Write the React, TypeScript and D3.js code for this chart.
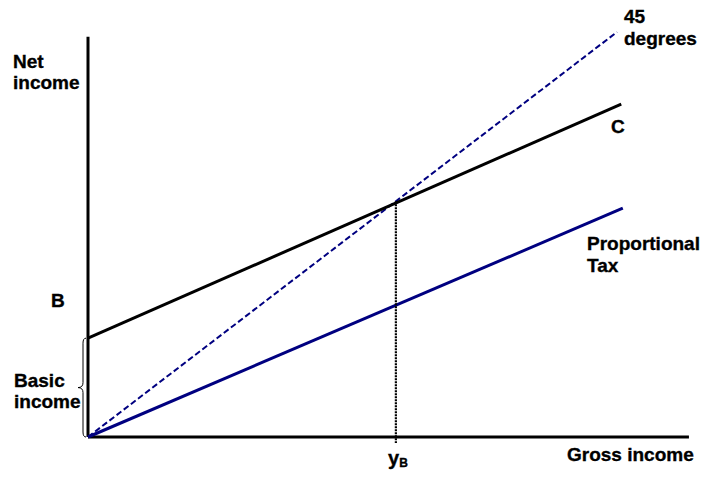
import React from "react";
import * as d3 from "d3";

const W = 706;
const H = 480;

// data (abstract income units)
const xMax = 113.6;
const yMax = 98.8;
const basicIncome = 24.4;
const yB = 58.2;
const line45 = [[0, 0], [100, 100]];
const lineC = [[0, 24.4], [100.8, 82.2]];
const lineProp = [[0, 0], [101.1, 56.5]];

export default function App() {
  const x = d3.scaleLinear().domain([0, 100]).range([88, 617]);
  const y = d3.scaleLinear().domain([0, 100]).range([437, 32]);
  const line = d3.line<number[]>().x((d) => x(d[0])).y((d) => y(d[1]));

  const font = "'Liberation Sans', Arial, sans-serif";
  const ts: React.CSSProperties = {
    fontFamily: font,
    fontWeight: "bold",
    fontSize: 19,
    stroke: "#000",
    strokeWidth: 0.35,
  };

  const by0 = y(basicIncome);
  const by1 = y(0);
  const bm = (by0 + by1) / 2;
  const bx = x(0) - 5;
  const brace = `M${bx + 3},${by0} Q${bx},${by0} ${bx},${by0 + 5} L${bx},${bm - 5} Q${bx},${bm} ${bx - 5},${bm} Q${bx},${bm} ${bx},${bm + 5} L${bx},${by1 - 5} Q${bx},${by1} ${bx + 3},${by1}`;

  return (
    <svg width={W} height={H} style={{ position: "absolute", left: 0, top: 0, background: "#fff" }}>
      {/* axes */}
      <line x1={x(0)} y1={y(0)} x2={x(0)} y2={y(yMax)} stroke="#000" strokeWidth={3} />
      <line x1={x(0)} y1={y(0)} x2={x(xMax)} y2={y(0)} stroke="#000" strokeWidth={3} />
      {/* lines */}
      <path d={line(line45)!} stroke="#000080" strokeWidth={2} strokeDasharray="6,3" fill="none" />
      <path d={line(lineProp)!} stroke="#000080" strokeWidth={3} fill="none" />
      <path d={line(lineC)!} stroke="#000" strokeWidth={3} fill="none" />
      <line x1={x(yB)} y1={y(yB)} x2={x(yB)} y2={y(0) + 6} stroke="#000" strokeWidth={2.2} strokeDasharray="2,1" />
      <path d={brace} stroke="#000" strokeWidth={1} fill="none" />
      {/* labels */}
      <text x={13} y={68} style={ts}>Net</text>
      <text x={13} y={89} style={ts}>income</text>
      <text x={51} y={307} style={ts}>B</text>
      <text x={14} y={387} style={ts}>Basic</text>
      <text x={14} y={408} style={ts}>income</text>
      <text x={624} y={23} style={ts}>45</text>
      <text x={624} y={45} style={ts}>degrees</text>
      <text x={611} y={133} style={ts}>C</text>
      <text x={587} y={250} style={ts}>Proportional</text>
      <text x={587} y={272} style={ts}>Tax</text>
      <text x={567} y={461} style={ts}>Gross income</text>
      <text x={388} y={465} style={{ ...ts, fontSize: 20 }}>
        y<tspan dy={2} style={{ fontSize: 12 }}>B</tspan>
      </text>
    </svg>
  );
}
